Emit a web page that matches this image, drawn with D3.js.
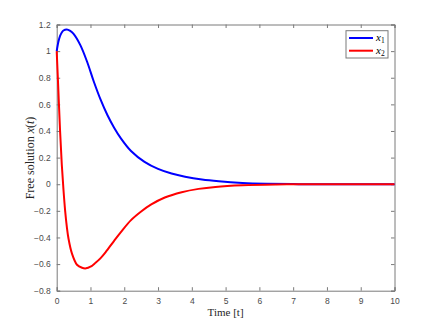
<!DOCTYPE html>
<html>
<head>
<meta charset="utf-8">
<script src="https://cdn.jsdelivr.net/npm/d3@7"></script>
<style>
  body { margin: 0; background: #fff; }
  svg text { font-family: "Liberation Sans", Arial, sans-serif; }
  .tex { font-family: "Liberation Serif", "DejaVu Serif", serif; }
</style>
</head>
<body>
<div class="chart"></div>
<script>
// values
var t1 = [0, 0.05, 0.1, 0.15, 0.2, 0.3, 0.4, 0.5, 0.7, 0.9, 1.1, 1.3, 1.5, 1.7, 1.9, 2.2, 2.6, 3.0, 3.4, 3.8, 4.3, 4.8, 5.5, 6.2, 7, 8, 10];
var x1  = [1.0, 1.07, 1.115, 1.14, 1.155, 1.163, 1.152, 1.13, 1.045, 0.92, 0.77, 0.635, 0.52, 0.425, 0.345, 0.25, 0.168, 0.115, 0.08, 0.056, 0.035, 0.022, 0.01, 0.004, 0.001, 0, 0];

var t2 = [0, 0.05, 0.1, 0.15, 0.2, 0.25, 0.3, 0.35, 0.45, 0.6, 0.75, 0.87, 1.0, 1.15, 1.3, 1.45, 1.7, 1.9, 2.2, 2.5, 2.8, 3.2, 3.7, 4.2, 4.7, 5.5, 6.5, 7.5, 10];
var x2  = [1.0, 0.70, 0.40, 0.15, -0.04, -0.2, -0.32, -0.41, -0.52, -0.605, -0.628, -0.632, -0.62, -0.59, -0.555, -0.51, -0.425, -0.36, -0.27, -0.205, -0.152, -0.1, -0.06, -0.035, -0.02, -0.008, -0.002, 0, 0];

var xTicks = [0, 1, 2, 3, 4, 5, 6, 7, 8, 9, 10];
var yTicks = [-0.8, -0.6, -0.4, -0.2, 0, 0.2, 0.4, 0.6, 0.8, 1, 1.2];

var W = 436, H = 327;
var margin = {left: 56.7, right: 41.5, top: 24.5, bottom: 36.3};
var width = W - margin.left - margin.right,
    height = H - margin.top - margin.bottom;

var x = d3.scaleLinear().domain([0, 10]).range([0, width]);
var y = d3.scaleLinear().domain([-0.8, 1.2]).range([height, 0]);

var svg = d3.select(".chart").append("svg")
    .attr("width", W)
    .attr("height", H)
  .append("g")
    .attr("transform", "translate(" + margin.left + "," + margin.top + ")");

var axisCol = "#7a7a7a";

// bottom + top axes, ticks pointing in
var xb = svg.append("g")
    .attr("transform", "translate(0," + height + ")")
    .call(d3.axisBottom(x).tickValues(xTicks).tickSize(-3.5).tickPadding(7).tickFormat(d3.format("d")));
var xt = svg.append("g")
    .call(d3.axisTop(x).tickValues(xTicks).tickSize(-3.5).tickFormat(""));
var yl = svg.append("g")
    .call(d3.axisLeft(y).tickValues(yTicks).tickSize(-3.5).tickPadding(6).tickFormat(function(d) { return d3.format("")(+d.toFixed(1)); }));
var yr = svg.append("g")
    .attr("transform", "translate(" + width + ",0)")
    .call(d3.axisRight(y).tickValues(yTicks).tickSize(-3.5).tickFormat(""));

[xb, xt, yl, yr].forEach(function(g) {
  g.selectAll("path").attr("stroke", axisCol).attr("stroke-width", 1);
  g.selectAll("line").attr("stroke", axisCol).attr("stroke-width", 1);
  g.selectAll("text").attr("fill", "#4a4a4a").style("font-size", "8.5px").style("font-family", "Liberation Sans, Arial, sans-serif");
});

var line = d3.line()
    .x(function(d) { return x(d[0]); })
    .y(function(d) { return y(d[1]); })
    .curve(d3.curveCatmullRom.alpha(0.5));

svg.append("path")
    .datum(d3.zip(t1, x1))
    .attr("fill", "none")
    .attr("stroke", "#0000ff")
    .attr("stroke-width", 2)
    .attr("d", line);

svg.append("path")
    .datum(d3.zip(t2, x2))
    .attr("fill", "none")
    .attr("stroke", "#ff0000")
    .attr("stroke-width", 2)
    .attr("d", line);

// axis labels
svg.append("text")
    .attr("class", "tex")
    .attr("x", width / 2)
    .attr("y", height + 23)
    .attr("text-anchor", "middle")
    .attr("dominant-baseline", "middle")
    .style("font-size", "11px")
    .attr("fill", "#262626")
    .text("Time [t]");

var yLab = svg.append("text")
    .attr("class", "tex")
    .attr("transform", "translate(" + (31 - margin.left) + "," + (158 - margin.top) + ") rotate(-90)")
    .attr("text-anchor", "middle")
    .attr("dominant-baseline", "middle")
    .style("font-size", "12px")
    .attr("fill", "#262626");
yLab.append("tspan").text("Free solution ");
yLab.append("tspan").style("font-style", "italic").text("x");
yLab.append("tspan").text("(");
yLab.append("tspan").style("font-style", "italic").text("t");
yLab.append("tspan").text(")");

// legend
var leg = svg.append("g")
    .attr("transform", "translate(" + (346 - margin.left) + "," + (30.7 - margin.top) + ")");
leg.append("rect")
    .attr("width", 42)
    .attr("height", 27.3)
    .attr("fill", "#fff")
    .attr("stroke", axisCol)
    .attr("stroke-width", 1);

var items = [{name: "x", sub: "1", col: "#0000ff"}, {name: "x", sub: "2", col: "#ff0000"}];
items.forEach(function(it, i) {
  var yy = 7.3 + i * 12.7;
  leg.append("line")
      .attr("x1", 3).attr("x2", 27)
      .attr("y1", yy).attr("y2", yy)
      .attr("stroke", it.col)
      .attr("stroke-width", 2);
  var tx = leg.append("text")
      .attr("class", "tex")
      .attr("x", 30)
      .attr("y", yy + 3)
      .style("font-size", "11px")
      .attr("fill", "#000");
  tx.append("tspan").style("font-style", "italic").text(it.name);
  tx.append("tspan").attr("dy", 2.5).style("font-size", "7.5px").text(it.sub);
});
</script>
</body>
</html>
